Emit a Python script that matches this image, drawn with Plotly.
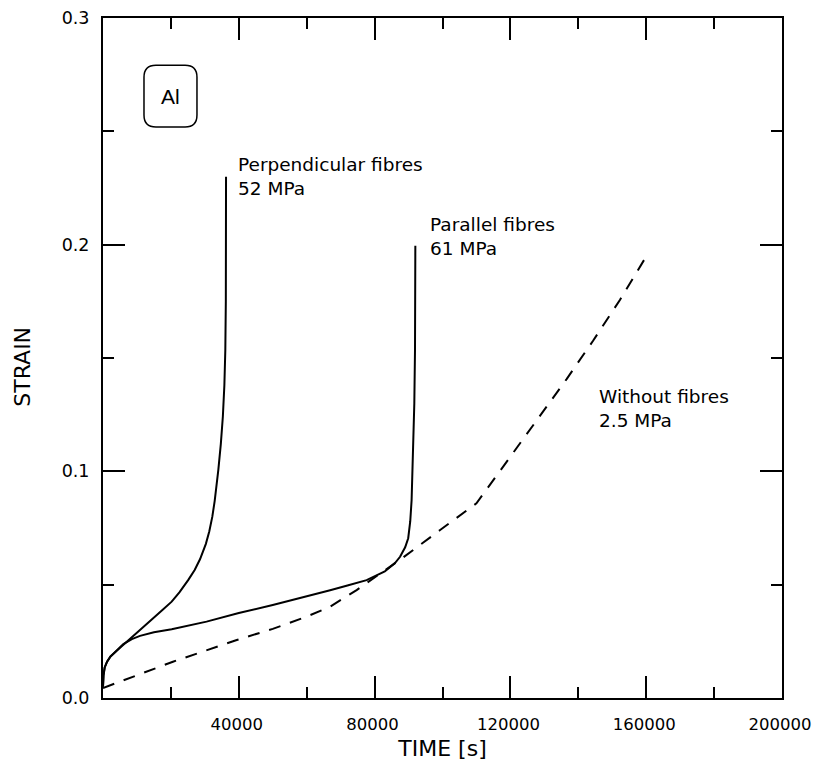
import plotly.graph_objects as go

# ---- data ----
perp_time = [0, 150, 500, 1200, 2200, 3000, 4030, 5500, 7000, 9000, 10900, 13000, 15000,
             17500, 20230, 22500, 25130, 27000, 28570, 29500, 30300, 31300, 32200, 32900,
             33500, 33970, 34700, 35300, 35750, 36030, 36180, 36230, 36240]
perp_strain = [0.005, 0.010, 0.0135, 0.0160, 0.0183, 0.0195, 0.0207, 0.0228, 0.0248, 0.0274,
               0.0300, 0.0328, 0.0355, 0.0388, 0.0425, 0.0466, 0.0521, 0.0565, 0.0612, 0.0645,
               0.0680, 0.0735, 0.0800, 0.0870, 0.0940, 0.1006, 0.1120, 0.1241, 0.1380, 0.1535,
               0.1750, 0.1976, 0.2300]

par_time = [0, 150, 500, 1200, 2200, 3000, 4030, 6000, 8500, 10900, 15000, 20230, 30500,
            40000, 50000, 58000, 66900, 72000, 77650, 83000, 86000, 87500, 88200, 89000,
            89900, 90500, 90900, 91400, 91700, 91900, 92000]
par_strain = [0.005, 0.010, 0.0135, 0.0160, 0.0183, 0.0195, 0.0207, 0.0238, 0.0260, 0.0274,
              0.0290, 0.0303, 0.0337, 0.0375, 0.0410, 0.0440, 0.0475, 0.0496, 0.0520, 0.0558,
              0.0595, 0.0623, 0.0642, 0.0665, 0.0705, 0.0780, 0.0873, 0.1090, 0.1300, 0.1535,
              0.1995]

nof_time = [0, 6500, 20600, 39400, 50000, 60000, 66900, 74700, 80000, 87500, 99300, 110000,
            116900, 126650, 136560, 144300, 152250, 159920]
nof_strain = [0.0044, 0.0080, 0.0160, 0.0256, 0.0305, 0.0359, 0.0403, 0.0476, 0.0530, 0.0610,
              0.0741, 0.0859, 0.1001, 0.1204, 0.1407, 0.1575, 0.1756, 0.1946]

x_tickvals = [0, 40000, 80000, 120000, 160000, 200000]
x_ticktext = ["", "40000", "80000", "120000", "160000", "200000"]
y_tickvals = [0.0, 0.1, 0.2, 0.3]
y_ticktext = ["0.0", "0.1", "0.2", "0.3"]

labels = [
    ("Perpendicular fibres<br>52 MPa", 39300, 0.2300),
    ("Parallel fibres<br>61 MPa", 95700, 0.2034),
    ("Without fibres<br>2.5 MPa", 145500, 0.1279),
]

FONT = "DejaVu Sans"

fig = go.Figure()
fig.add_trace(go.Scatter(x=perp_time, y=perp_strain, mode="lines",
                         line=dict(color="black", width=2), showlegend=False))
fig.add_trace(go.Scatter(x=par_time, y=par_strain, mode="lines",
                         line=dict(color="black", width=2), showlegend=False))
fig.add_trace(go.Scatter(x=nof_time, y=nof_strain, mode="lines",
                         line=dict(color="black", width=2, dash="12px,10px"),
                         showlegend=False))

for txt, x, y in labels:
    fig.add_annotation(x=x, y=y, text=txt, showarrow=False, xanchor="left", yanchor="middle",
                       align="left", font=dict(family=FONT, size=18.5, color="black"))

# rounded box with "Al"
bx0, bx1, by0, by1 = 12075, 27680, 0.2519, 0.2792
rx, ry = 3500, 0.0053
path = (f"M {bx0+rx},{by1} L {bx1-rx},{by1} Q {bx1},{by1} {bx1},{by1-ry} "
        f"L {bx1},{by0+ry} Q {bx1},{by0} {bx1-rx},{by0} "
        f"L {bx0+rx},{by0} Q {bx0},{by0} {bx0},{by0+ry} "
        f"L {bx0},{by1-ry} Q {bx0},{by1} {bx0+rx},{by1} Z")
fig.add_shape(type="path", path=path, xref="x", yref="y",
              line=dict(color="black", width=1.5))
fig.add_annotation(x=(bx0+bx1)/2, y=(by0+by1)/2, text="Al", showarrow=False,
                   font=dict(family="Liberation Sans", size=21, color="black"))

# y-axis title placed as rotated text
fig.add_annotation(x=-0.118, y=0.487, xref="paper", yref="paper", text="STRAIN",
                   textangle=-90, showarrow=False, xanchor="center", yanchor="middle",
                   font=dict(family=FONT, size=22, color="black"))

axis_common = dict(showline=True, linecolor="black", linewidth=2, mirror="ticks",
                   ticks="inside", ticklen=22, tickwidth=2, tickcolor="black",
                   showgrid=False, zeroline=False, automargin=False,
                   ticklabeloverflow="allow")

fig.update_xaxes(range=[0, 200000], tickmode="array", tickvals=x_tickvals, ticktext=x_ticktext,
                 minor=dict(dtick=20000, tick0=0, ticks="inside", ticklen=11, tickwidth=2,
                            tickcolor="black", showgrid=False),
                 title=dict(text="TIME [s]", font=dict(family=FONT, size=22, color="black"),
                            standoff=9),
                 tickfont=dict(family=FONT, size=16.5, color="black"),
                 ticklabelstandoff=10, ticklabelshift=-2, **axis_common)
fig.update_yaxes(range=[0, 0.3], tickmode="array", tickvals=y_tickvals, ticktext=y_ticktext,
                 minor=dict(dtick=0.05, tick0=0, ticks="inside", ticklen=11, tickwidth=2,
                            tickcolor="black", showgrid=False),
                 tickfont=dict(family=FONT, size=17.5, color="black"),
                 ticklabelstandoff=8, **axis_common)

fig.update_layout(width=810, height=753, margin=dict(l=95, r=36, t=10, b=63),
                  paper_bgcolor="white", plot_bgcolor="white", showlegend=False)

fig.write_html("out.html")
